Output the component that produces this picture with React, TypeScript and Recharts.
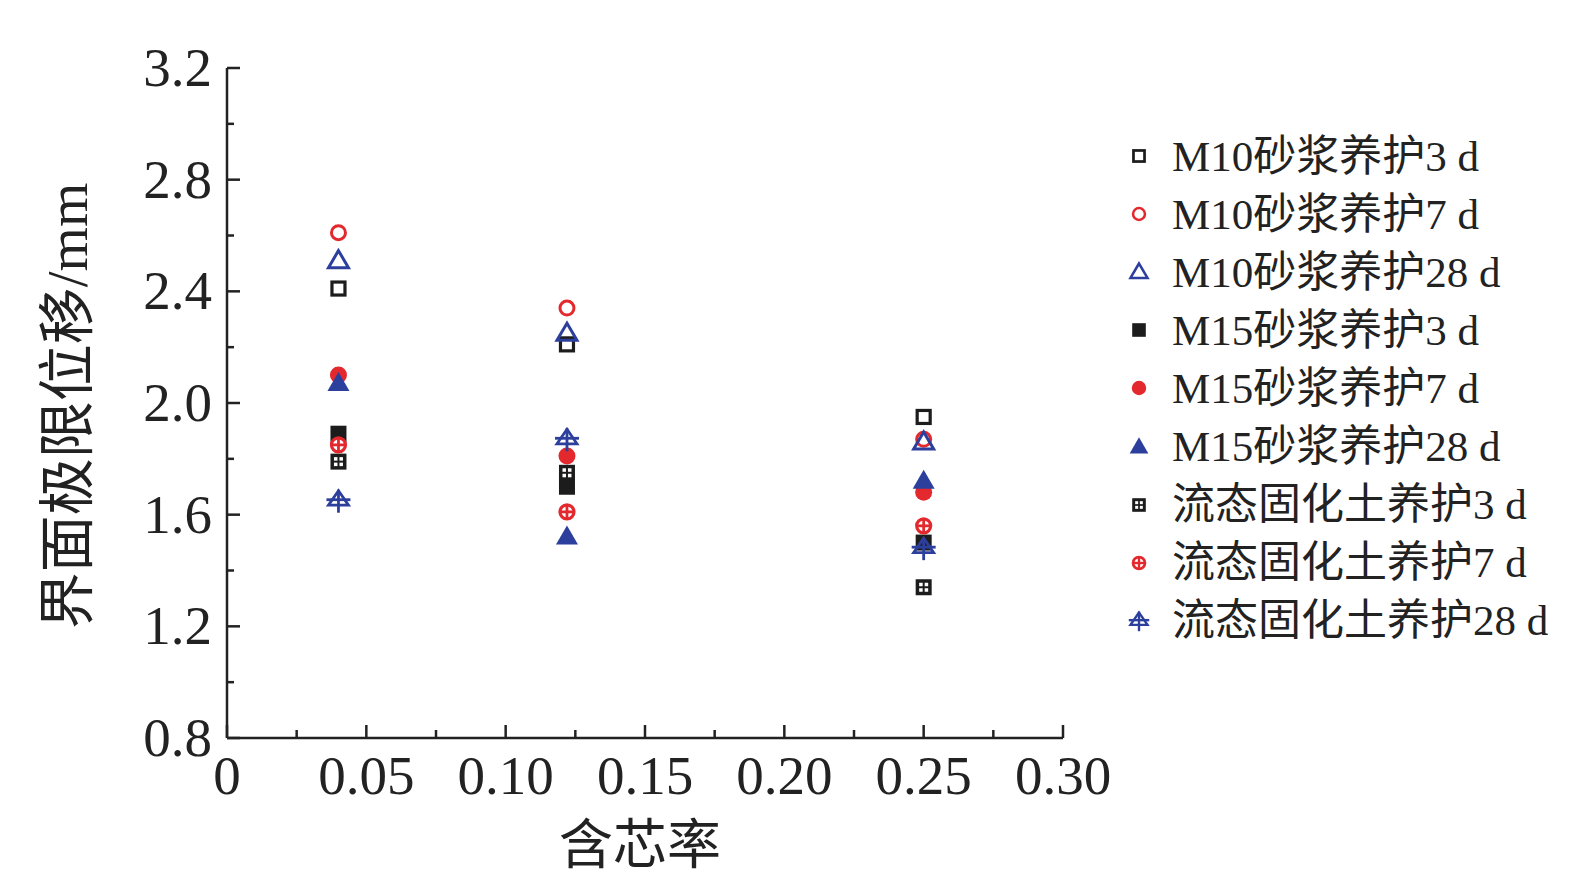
import React from "react";
import { ScatterChart, Scatter, XAxis, YAxis, Label } from "recharts";

// 含芯率 (x) for the three specimen groups
const CORE_RATIO = [0.04, 0.122, 0.25];

// 界面极限位移 (mm), one value per core ratio
const M10_3D = [2.41, 2.21, 1.95];
const M10_7D = [2.61, 2.34, 1.87];
const M10_28D = [2.51, 2.25, 1.86];
const M15_3D = [1.89, 1.7, 1.5];
const M15_7D = [2.1, 1.81, 1.68];
const M15_28D = [2.07, 1.52, 1.72];
const FLOW_3D = [1.79, 1.75, 1.34];
const FLOW_7D = [1.85, 1.61, 1.56];
const FLOW_28D = [1.65, 1.87, 1.48];

const SERIES_NAMES = [
    "M10砂浆养护3 d",
    "M10砂浆养护7 d",
    "M10砂浆养护28 d",
    "M15砂浆养护3 d",
    "M15砂浆养护7 d",
    "M15砂浆养护28 d",
    "流态固化土养护3 d",
    "流态固化土养护7 d",
    "流态固化土养护28 d",
];

const X_TICKS = [0, 0.025, 0.05, 0.075, 0.1, 0.125, 0.15, 0.175, 0.2, 0.225, 0.25, 0.275, 0.3];
const X_LABELS = [0, 0.05, 0.1, 0.15, 0.2, 0.25, 0.3];
const Y_TICKS = [0.8, 1.0, 1.2, 1.4, 1.6, 1.8, 2.0, 2.2, 2.4, 2.6, 2.8, 3.0, 3.2];
const Y_LABELS = [0.8, 1.2, 1.6, 2.0, 2.4, 2.8, 3.2];

const BLACK = "#1c1c1c";
const RED = "#e3292e";
const BLUE = "#2d3f9c";
const AXIS = "#222";
const LATIN_FONT = "'Liberation Serif', 'Times New Roman', serif";
const CJK_FONT = "'Liberation Serif', 'Noto Sans CJK SC', serif";

type MarkerKind =
    | "openSquare"
    | "openCircle"
    | "openTriangle"
    | "square"
    | "circle"
    | "triangle"
    | "gridSquare"
    | "crossCircle"
    | "crossTriangle";

const series: { name: string; values: number[]; color: string; marker: MarkerKind }[] = [
    { name: SERIES_NAMES[0], values: M10_3D, color: BLACK, marker: "openSquare" },
    { name: SERIES_NAMES[1], values: M10_7D, color: RED, marker: "openCircle" },
    { name: SERIES_NAMES[2], values: M10_28D, color: BLUE, marker: "openTriangle" },
    { name: SERIES_NAMES[3], values: M15_3D, color: BLACK, marker: "square" },
    { name: SERIES_NAMES[4], values: M15_7D, color: RED, marker: "circle" },
    { name: SERIES_NAMES[5], values: M15_28D, color: BLUE, marker: "triangle" },
    { name: SERIES_NAMES[6], values: FLOW_3D, color: BLACK, marker: "gridSquare" },
    { name: SERIES_NAMES[7], values: FLOW_7D, color: RED, marker: "crossCircle" },
    { name: SERIES_NAMES[8], values: FLOW_28D, color: BLUE, marker: "crossTriangle" },
];

function Marker({ kind, cx, cy, color }: { kind: MarkerKind; cx: number; cy: number; color: string }) {
    switch (kind) {
        case "openSquare":
            return <rect x={cx - 6.5} y={cy - 6.5} width={13} height={13} fill="none" stroke={color} strokeWidth={3.2} />;
        case "openCircle":
            return <circle cx={cx} cy={cy} r={7} fill="none" stroke={color} strokeWidth={3} />;
        case "openTriangle":
            return (
                <polygon
                    points={`${cx},${cy - 10} ${cx - 10},${cy + 7} ${cx + 10},${cy + 7}`}
                    fill="none"
                    stroke={color}
                    strokeWidth={3}
                />
            );
        case "square":
            return <rect x={cx - 8} y={cy - 8} width={16} height={16} fill={color} />;
        case "circle":
            return <circle cx={cx} cy={cy} r={8.5} fill={color} />;
        case "triangle":
            return <polygon points={`${cx},${cy - 11.5} ${cx - 11},${cy + 7.5} ${cx + 11},${cy + 7.5}`} fill={color} />;
        case "gridSquare":
            return (
                <g>
                    <rect x={cx - 8} y={cy - 8} width={16} height={16} fill={color} />
                    <rect x={cx - 4.5} y={cy - 4.5} width={3.5} height={3.5} fill="#fff" />
                    <rect x={cx + 1} y={cy - 4.5} width={3.5} height={3.5} fill="#fff" />
                    <rect x={cx - 4.5} y={cy + 1} width={3.5} height={3.5} fill="#fff" />
                    <rect x={cx + 1} y={cy + 1} width={3.5} height={3.5} fill="#fff" />
                </g>
            );
        case "crossCircle":
            return (
                <g>
                    <circle cx={cx} cy={cy} r={7} fill="#fff" stroke={color} strokeWidth={3.2} />
                    <line x1={cx - 7} x2={cx + 7} y1={cy} y2={cy} stroke={color} strokeWidth={2.8} />
                    <line x1={cx} x2={cx} y1={cy - 7} y2={cy + 7} stroke={color} strokeWidth={2.8} />
                </g>
            );
        case "crossTriangle":
            return (
                <g>
                    <polygon
                        points={`${cx},${cy - 10} ${cx - 10},${cy + 4.5} ${cx + 10},${cy + 4.5}`}
                        fill="none"
                        stroke={color}
                        strokeWidth={2.8}
                    />
                    <line x1={cx - 12} x2={cx + 12} y1={cy - 1} y2={cy - 1} stroke={color} strokeWidth={2.8} />
                    <line x1={cx} x2={cx} y1={cy - 11} y2={cy + 12} stroke={color} strokeWidth={2.8} />
                </g>
            );
        default:
            return null;
    }
}

function YTick(props: any) {
    const { x, y, payload } = props;
    const v = payload.value as number;
    const major = Y_LABELS.includes(v);
    const axisX = x + 15;
    return (
        <g>
            <line x1={axisX} x2={axisX + (major ? 13 : 7)} y1={y} y2={y} stroke={AXIS} strokeWidth={2.5} />
            {major && (
                <text x={x} y={y + 18} textAnchor="end" fontSize={55} fontFamily={LATIN_FONT} fill={AXIS}>
                    {v.toFixed(1)}
                </text>
            )}
        </g>
    );
}

function XTick(props: any) {
    const { x, y, payload } = props;
    const v = payload.value as number;
    const major = X_LABELS.includes(v);
    return (
        <g>
            <line x1={x} x2={x} y1={y} y2={y - (major ? 13 : 8)} stroke={AXIS} strokeWidth={2.5} />
            {major && (
                <text x={x} y={y + 56} textAnchor="middle" fontSize={55} fontFamily={LATIN_FONT} fill={AXIS}>
                    {v === 0 ? "0" : v.toFixed(2)}
                </text>
            )}
        </g>
    );
}

function YTitle(props: any) {
    const vb = props.viewBox || { x: 0, y: 68, width: 227, height: 670 };
    const cx = vb.x + 67;
    const cy = vb.y + vb.height / 2 + 3;
    return (
        <text
            x={cx}
            y={cy}
            transform={`rotate(-90 ${cx} ${cy})`}
            textAnchor="middle"
            dominantBaseline="central"
            fontSize={57}
            fontFamily={CJK_FONT}
            fill={AXIS}
        >
            界面极限位移/mm
        </text>
    );
}

function XTitle(props: any) {
    const vb = props.viewBox || { x: 227, y: 738, width: 836, height: 157 };
    return (
        <text
            x={vb.x + vb.width / 2 - 5}
            y={vb.y + 108}
            textAnchor="middle"
            dominantBaseline="central"
            fontSize={54}
            fontFamily={CJK_FONT}
            fill={AXIS}
        >
            含芯率
        </text>
    );
}

function ChartLegend() {
    return (
        <div style={{ position: "absolute", left: 1120, top: 127 }}>
            {series.map((s) => (
                <div key={s.name} style={{ display: "flex", alignItems: "center", height: 58.1 }}>
                    <svg width={40} height={30} style={{ flexShrink: 0 }}>
                        <g transform="translate(19 15) scale(0.85)">
                            <Marker kind={s.marker} cx={0} cy={0} color={s.color} />
                        </g>
                    </svg>
                    <span
                        style={{
                            marginLeft: 12,
                            fontSize: 43,
                            fontFamily: CJK_FONT,
                            color: AXIS,
                            whiteSpace: "nowrap",
                            lineHeight: 1,
                        }}
                    >
                        {s.name}
                    </span>
                </div>
            ))}
        </div>
    );
}

export default function App() {
    return (
        <div style={{ position: "absolute", left: 0, top: 0, width: 1580, height: 895, background: "#fff" }}>
            <ScatterChart width={1580} height={895} margin={{ top: 68, right: 517, bottom: 0, left: 0 }}>
                <XAxis
                    type="number"
                    dataKey="x"
                    domain={[0, 0.3]}
                    ticks={X_TICKS}
                    interval={0}
                    height={157}
                    tickSize={0}
                    tickMargin={0}
                    tick={<XTick />}
                    tickLine={false}
                    axisLine={{ stroke: AXIS, strokeWidth: 2.5 }}
                    allowDataOverflow
                >
                    <Label content={<XTitle />} />
                </XAxis>
                <YAxis
                    type="number"
                    dataKey="y"
                    domain={[0.8, 3.2]}
                    ticks={Y_TICKS}
                    interval={0}
                    width={227}
                    tickSize={0}
                    tickMargin={15}
                    tick={<YTick />}
                    tickLine={false}
                    axisLine={{ stroke: AXIS, strokeWidth: 2.5 }}
                    allowDataOverflow
                >
                    <Label content={<YTitle />} />
                </YAxis>
                {series.map((s) => (
                    <Scatter
                        key={s.name}
                        name={s.name}
                        data={CORE_RATIO.map((x, i) => ({ x, y: s.values[i] }))}
                        isAnimationActive={false}
                        shape={(p: any) => <Marker kind={s.marker} cx={p.cx} cy={p.cy} color={s.color} />}
                    />
                ))}
            </ScatterChart>
            <ChartLegend />
        </div>
    );
}
